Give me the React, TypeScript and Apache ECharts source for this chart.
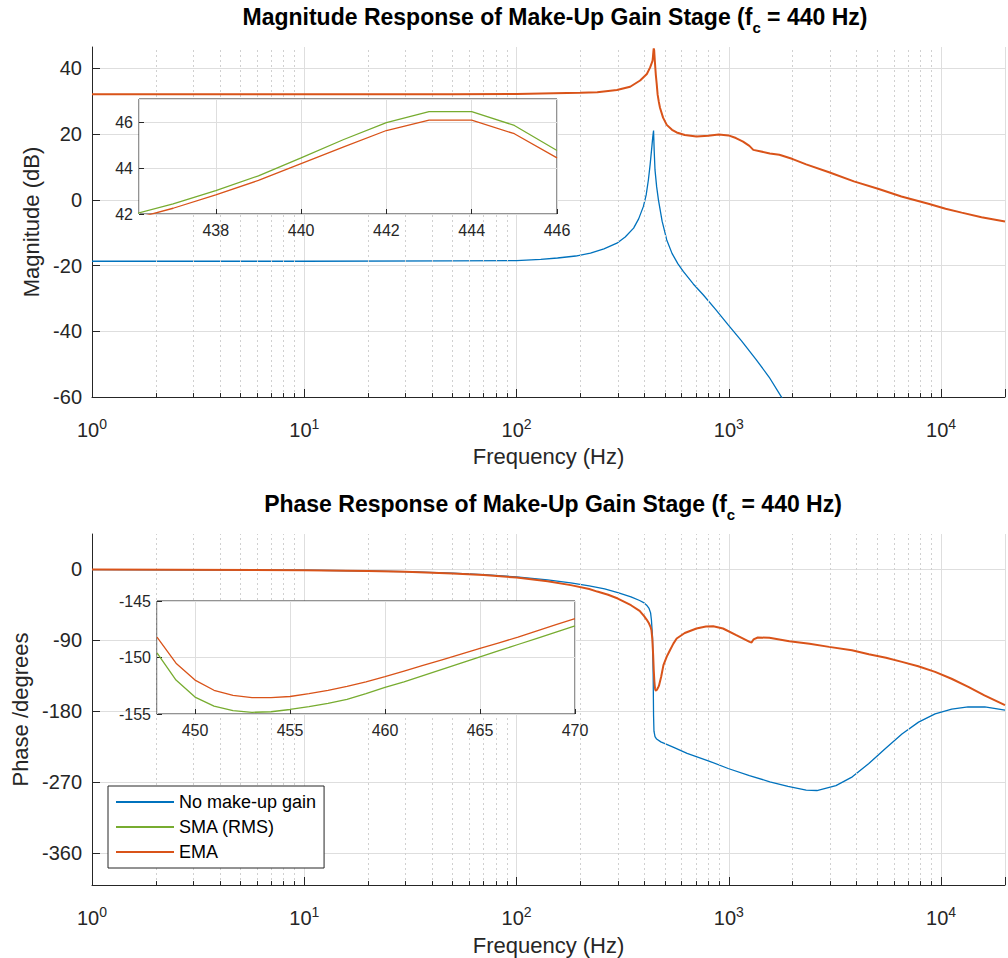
import React, { useEffect, useRef } from 'react';
import * as echarts from 'echarts';

const FONT = '"Liberation Sans", Arial, Helvetica, sans-serif';
const BLUE = '#0072BD';
const GREEN = '#77AC30';
const ORANGE = '#D95319';
const INK = '#262626';
const GRIDC = '#dedede';
const MINORC = '#d0d0d0';

// ---------- data ----------
const minorFreqs = [2, 3, 4, 5, 6, 7, 8, 9, 20, 30, 40, 50, 60, 70, 80, 90, 200, 300, 400, 500, 600, 700, 800, 900, 2000, 3000, 4000, 5000, 6000, 7000, 8000, 9000];

const noGainMagFreq = [1, 10, 50, 100, 130, 156, 190, 223, 258, 297, 325, 356, 376, 396, 408, 418, 426, 434, 438, 442, 445, 449, 457, 466, 485, 510, 540, 575, 610, 680, 757, 870, 991, 1150, 1345, 1550, 1762, 2000];
const noGainMag = [-18.7, -18.7, -18.6, -18.5, -18.1, -17.7, -17.1, -16.2, -14.9, -13.2, -11.3, -8.6, -5.8, -2.0, 1.5, 6.1, 10.8, 16.2, 19.0, 21.1, 15.0, 9.1, 4.0, 0.0, -6.5, -12.2, -16.3, -19.4, -21.8, -25.6, -28.9, -33.5, -38.0, -43.0, -48.6, -54.0, -59.8, -65.6];

const emaMagFreq = [1, 10, 50, 100, 150, 200, 240, 297, 343, 382, 411, 426, 437, 438, 439, 440, 441, 442, 443, 444, 445, 446, 448, 450, 453, 457, 462, 468, 474, 490, 510, 540, 568, 620, 704, 800, 897, 996, 1080, 1167, 1250, 1304, 1400, 1560, 1730, 2000, 2314, 2966, 3884, 5086, 6500, 8714, 10500, 12500, 15500, 20000];
const emaMag = [32.1, 32.1, 32.1, 32.2, 32.4, 32.55, 32.7, 33.4, 34.4, 36.3, 38.3, 40.3, 42.25, 42.83, 43.46, 44.19, 44.92, 45.63, 46.08, 46.08, 45.49, 44.44, 42.4, 40.6, 38.0, 35.5, 32.0, 29.8, 28.0, 25.0, 22.8, 21.3, 20.5, 19.7, 19.3, 19.5, 19.9, 19.6, 18.8, 17.7, 16.4, 15.2, 14.8, 14.1, 13.7, 12.4, 10.8, 8.4, 5.6, 3.3, 1.0, -1.2, -2.7, -3.9, -5.3, -6.6];

const noGainPhaseFreq = [1, 10, 20, 30, 50, 70, 100, 140, 180, 220, 260, 300, 346, 380, 399, 410, 421, 428, 432, 437, 440, 442, 444, 449, 457, 478, 550, 636, 800, 993, 1250, 1560, 1900, 2314, 2600, 3196, 3818, 4567, 5468, 6540, 7830, 9370, 11220, 13400, 16070, 20000];
const noGainPhase = [-0.1, -0.9, -1.9, -2.8, -4.7, -6.6, -9.4, -13.2, -16.9, -20.7, -24.6, -29.2, -34.7, -39.3, -42.3, -45.3, -49.4, -55.0, -64.3, -85, -130, -185, -205, -212, -215, -218.5, -225.6, -233.2, -242.5, -252.3, -261.2, -269.2, -275.0, -279.8, -280.2, -274.0, -262.9, -246.0, -227.0, -208.5, -193.5, -183.0, -177.0, -174.3, -174.3, -178.3];

const emaPhaseFreq = [1, 10, 20, 30, 50, 70, 100, 140, 180, 220, 240, 270, 300, 346, 380, 399, 410, 421, 428, 432, 436, 440, 443, 446, 448, 449, 450, 451, 452, 453, 454, 455, 456, 457, 458, 459, 460, 461, 462, 463, 464, 465, 466, 467, 468, 469, 470, 480, 492, 510, 528, 548, 568, 620, 704, 780, 844, 939, 1084, 1253, 1280, 1307, 1370, 1553, 1927, 2400, 2966, 3800, 4567, 5500, 6540, 7800, 9370, 11200, 13430, 16000, 20000];
const emaPhase = [-0.1, -1.0, -2.0, -3.0, -5.0, -7.0, -10.2, -14.8, -19.8, -24.8, -28.0, -32.0, -36.8, -45.3, -52.5, -59.2, -63.5, -68.5, -73.0, -77.0, -88, -108, -128, -142, -148.2, -150.5, -152.0, -152.9, -153.35, -153.55, -153.55, -153.45, -153.2, -152.9, -152.55, -152.15, -151.7, -151.2, -150.7, -150.2, -149.7, -149.2, -148.7, -148.2, -147.65, -147.1, -146.55, -136, -121.3, -110.5, -102.3, -94.0, -87.5, -80.5, -74.8, -72.2, -71.9, -74.8, -83.3, -91.8, -92.5, -88.7, -86.2, -86.6, -90.9, -94.2, -98.1, -102.5, -107.4, -111.8, -117.1, -122.6, -129.8, -138.5, -148.8, -159.5, -172];

const insetMagFreq = [436, 437, 438, 439, 440, 441, 442, 443, 444, 445, 446];
const smaInsetMag = [41.95, 42.44, 43.02, 43.66, 44.44, 45.24, 45.97, 46.45, 46.45, 45.85, 44.76];
const emaInsetMag = [41.75, 42.25, 42.83, 43.46, 44.19, 44.92, 45.63, 46.08, 46.08, 45.49, 44.44];

const insetPhaseFreq = [448, 449, 450, 451, 452, 453, 454, 455, 456, 457, 458, 459, 460, 461, 462, 463, 464, 465, 466, 467, 468, 469, 470];
const emaInsetPhase = [-148.2, -150.5, -152.0, -152.9, -153.35, -153.55, -153.55, -153.45, -153.2, -152.9, -152.55, -152.15, -151.7, -151.2, -150.7, -150.2, -149.7, -149.2, -148.7, -148.2, -147.65, -147.1, -146.55];
const smaInsetPhase = [-149.6, -152.0, -153.5, -154.3, -154.7, -154.85, -154.8, -154.6, -154.35, -154.05, -153.7, -153.2, -152.65, -152.15, -151.6, -151.05, -150.5, -149.95, -149.4, -148.85, -148.3, -147.75, -147.2];

const legendNames = ['No make-up gain', 'SMA (RMS)', 'EMA'];

// ---------- helpers ----------
const zip = (xs: number[], ys: number[]) => xs.map((x, i) => [x, ys[i]]);

const labelRich = {
  b: { fontSize: 20, fontFamily: FONT, color: INK, verticalAlign: 'bottom' },
  s: { fontSize: 14, fontFamily: FONT, color: INK, verticalAlign: 'bottom', padding: [0, 0, 9, 0] },
};

function logXAxis(gridIndex: number, nameGap: number) {
  return {
    type: 'log',
    logBase: 10,
    gridIndex,
    min: 1,
    max: 20000,
    axisLine: { show: true, onZero: false, lineStyle: { color: INK, width: 1 } },
    axisTick: { show: true, inside: true, length: 8, lineStyle: { color: INK } },
    axisLabel: {
      margin: 20,
      formatter: (v: number) => {
        const l = Math.log10(v);
        const n = Math.round(l);
        if (Math.abs(l - n) > 1e-6) return '';
        return '{b|10}{s|' + n + '}';
      },
      rich: labelRich,
    },
    splitLine: { show: true, lineStyle: { color: GRIDC, width: 1 } },
    minorTick: { show: false },
    name: 'Frequency (Hz)',
    nameLocation: 'middle',
    nameGap,
    nameTextStyle: { fontSize: 22, fontFamily: FONT, color: INK },
  };
}

function mainYAxis(gridIndex: number, min: number, max: number, step: number, name: string, nameGap: number) {
  return {
    type: 'value',
    gridIndex,
    min,
    max,
    minInterval: step,
    maxInterval: step,
    axisLine: { show: true, onZero: false, lineStyle: { color: INK, width: 1 } },
    axisTick: { show: true, inside: true, length: 8, lineStyle: { color: INK } },
    axisLabel: { fontSize: 20, fontFamily: FONT, color: INK, margin: 10, showMaxLabel: false, showMinLabel: min % step === 0 },
    splitLine: { show: true, showMaxLine: false, lineStyle: { color: GRIDC, width: 1 } },
    name,
    nameLocation: 'middle',
    nameGap,
    nameTextStyle: { fontSize: 22, fontFamily: FONT, color: INK },
  };
}

function insetXAxis(gridIndex: number, min: number, max: number, step: number) {
  return {
    type: 'value',
    gridIndex,
    min,
    max,
    minInterval: step,
    maxInterval: step,
    z: 11,
    axisLine: { show: false, onZero: false },
    axisTick: { show: true, inside: true, length: 5, lineStyle: { color: INK } },
    axisLabel: { fontSize: 16, fontFamily: FONT, color: INK, margin: 8, showMinLabel: min % step === 0 },
    splitLine: { show: true, lineStyle: { color: GRIDC, width: 1 } },
  };
}

function insetYAxis(gridIndex: number, min: number, max: number, step: number) {
  return {
    type: 'value',
    gridIndex,
    min,
    max,
    minInterval: step,
    maxInterval: step,
    z: 11,
    axisLine: { show: false, onZero: false },
    axisTick: { show: true, inside: true, length: 5, lineStyle: { color: INK } },
    axisLabel: { fontSize: 16, fontFamily: FONT, color: INK, margin: 6, showMaxLabel: max % step === 0 },
    splitLine: { show: true, lineStyle: { color: GRIDC, width: 1 } },
  };
}

function lineSeries(name: string | undefined, data: number[][], axis: number, color: string, width: number, z: number) {
  return {
    type: 'line',
    name,
    xAxisIndex: axis,
    yAxisIndex: axis,
    data,
    showSymbol: false,
    symbol: 'none',
    clip: true,
    z,
    lineStyle: { color, width },
    itemStyle: { color },
    emphasis: { disabled: true },
  };
}

function decoSeries(axis: number, yBottom: number, tickLen: number) {
  return [
    {
      type: 'line',
      xAxisIndex: axis,
      yAxisIndex: axis,
      data: [],
      z: 1,
      silent: true,
      markLine: {
        silent: true,
        symbol: ['none', 'none'],
        label: { show: false },
        lineStyle: { color: MINORC, type: [2, 3], width: 1 },
        data: minorFreqs.map((f) => ({ xAxis: f })),
      },
    },
    {
      type: 'line',
      xAxisIndex: axis,
      yAxisIndex: axis,
      data: [],
      z: 3,
      silent: true,
      markLine: {
        silent: true,
        symbol: ['none', 'none'],
        label: { show: false },
        lineStyle: { color: INK, type: 'solid', width: 1 },
        data: minorFreqs.map((f) => [{ coord: [f, yBottom] }, { coord: [f, yBottom + tickLen] }]),
      },
    },
  ];
}

function titleText(x: number, y: number, main: string) {
  return {
    type: 'text',
    x,
    y,
    z: 30,
    style: {
      text: '{t|' + main + ' (f}{s|c}{t| = 440 Hz)}',
      align: 'center',
      verticalAlign: 'middle',
      rich: {
        t: { fontSize: 23, fontWeight: 'bold', fontFamily: FONT, fill: '#000', verticalAlign: 'top' },
        s: { fontSize: 15, fontWeight: 'bold', fontFamily: FONT, fill: '#000', verticalAlign: 'top', padding: [15, 0, 0, 0] },
      },
    },
  };
}

export default function App() {
  const ref = useRef<HTMLDivElement>(null);

  useEffect(() => {
    if (!ref.current) return;
    const chart = echarts.init(ref.current, undefined, { renderer: 'svg' });
    const option = {
      animation: false,
      backgroundColor: '#fff',
      textStyle: { fontFamily: FONT },
      grid: [
        { left: 92, top: 47, width: 918, height: 350 },
        { left: 139, top: 99, width: 418, height: 115, show: true, backgroundColor: '#fff', borderColor: INK, borderWidth: 1, z: 10 },
        { left: 92, top: 534, width: 918, height: 351 },
        { left: 157, top: 601, width: 418, height: 113, show: true, backgroundColor: '#fff', borderColor: INK, borderWidth: 1, z: 10 },
      ],
      xAxis: [
        logXAxis(0, 48),
        insetXAxis(1, 436.2, 446, 2),
        logXAxis(2, 49),
        insetXAxis(3, 448, 470, 5),
      ],
      yAxis: [
        mainYAxis(0, -60, 46.5, 20, 'Magnitude (dB)', 48),
        insetYAxis(1, 42, 47, 2),
        mainYAxis(2, -400, 45, 90, 'Phase /degrees', 61),
        insetYAxis(3, -155, -145, 5),
      ],
      legend: {
        data: legendNames,
        orient: 'vertical',
        left: 108,
        top: 786,
        padding: [7, 8, 7, 8],
        itemWidth: 58,
        itemHeight: 18,
        itemGap: 7,
        icon: 'path://M0,0 L58,0 L58,2 L0,2 Z',
        symbolKeepAspect: true,
        backgroundColor: '#fff',
        borderColor: INK,
        borderWidth: 1,
        borderRadius: 0,
        selectedMode: false,
        z: 20,
        textStyle: { fontSize: 18, fontFamily: FONT, color: '#000' },
      },
      graphic: [
        titleText(555, 20, 'Magnitude Response of Make-Up Gain Stage'),
        titleText(553, 507, 'Phase Response of Make-Up Gain Stage'),
      ],
      series: [
        ...decoSeries(0, -60, 1.2),
        ...decoSeries(2, -400, 5),
        lineSeries('No make-up gain', zip(noGainMagFreq, noGainMag), 0, BLUE, 1.3, 4),
        lineSeries('EMA', zip(emaMagFreq, emaMag), 0, ORANGE, 2, 5),
        lineSeries('No make-up gain', zip(noGainPhaseFreq, noGainPhase), 2, BLUE, 1.3, 4),
        lineSeries('EMA', zip(emaPhaseFreq, emaPhase), 2, ORANGE, 2, 5),
        lineSeries('SMA (RMS)', zip(insetMagFreq, smaInsetMag), 1, GREEN, 1.3, 12),
        lineSeries('EMA', zip(insetMagFreq, emaInsetMag), 1, ORANGE, 1.3, 13),
        lineSeries('SMA (RMS)', zip(insetPhaseFreq, smaInsetPhase), 3, GREEN, 1.3, 12),
        lineSeries('EMA', zip(insetPhaseFreq, emaInsetPhase), 3, ORANGE, 1.3, 13),
      ],
    };
    chart.setOption(option as any);
    return () => chart.dispose();
  }, []);

  return <div ref={ref} style={{ position: 'absolute', left: 0, top: 0, width: 1008, height: 958 }} />;
}
